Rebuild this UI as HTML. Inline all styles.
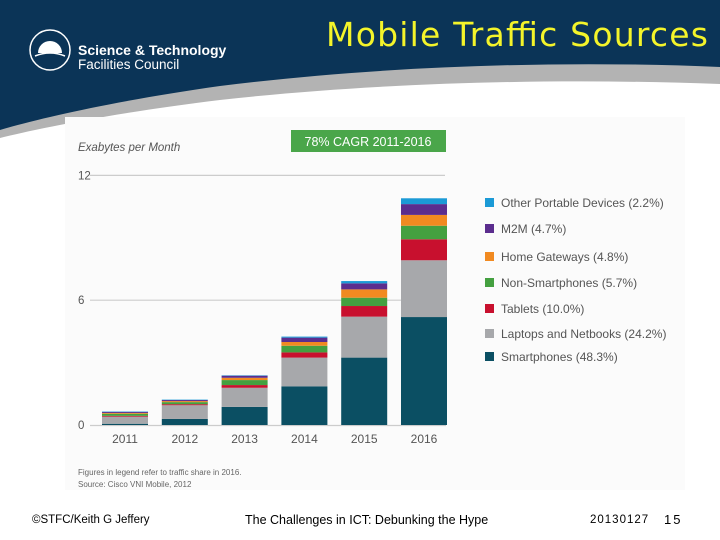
<!DOCTYPE html>
<html><head><meta charset="utf-8"><style>
body{margin:0;width:720px;height:540px;overflow:hidden;background:#fff;font-family:"Liberation Sans",sans-serif}
#root{position:relative;width:720px;height:540px}
</style></head><body>
<div id="root">
<svg width="720" height="540" style="position:absolute;left:0;top:0">
<g>
<path d="M0,0 H720 V84 C560,78 380,82 220,100 C120,112 40,128 0,138 Z" fill="#b3b3b3"/>
<path d="M0,0 H720 V67 C560,60 380,66 220,86 C120,100 40,118 0,130 Z" fill="#0b3457"/>
</g>
<g>
<circle cx="50" cy="50" r="20" fill="none" stroke="#fff" stroke-width="1.5"/>
<path d="M35,56 Q50,50 65,56" stroke="#fff" fill="none" stroke-width="1.5"/>
<path d="M38,53 A12,12 0 0 1 62,53 Z" fill="#fff"/>
<text x="78" y="55" fill="#fff" font-size="14" font-weight="bold">Science &amp; Technology</text>
<text x="78" y="69" fill="#fff" font-size="13.5">Facilities Council</text>
</g>
<text x="708" y="46" text-anchor="end" fill="#f4f42a" font-size="33" font-family="DejaVu Sans, sans-serif" textLength="382">Mobile Traffic Sources</text>
<rect x="65" y="117" width="620" height="373" fill="#fbfbfb"/>
<g id="chart"></g>
<g font-size="12.5" fill="#000">
<text x="32" y="523" font-size="11.5">©STFC/Keith G Jeffery</text>
<text x="245" y="524">The Challenges in ICT: Debunking the Hype</text>
<text x="590" y="523" font-size="11.5" letter-spacing="1">20130127</text>
<text x="664" y="524" font-size="13" letter-spacing="2">15</text>
</g>
</svg>
</div>
<script>
const years=["2011","2012","2013","2014","2015","2016"];
const smartphones=[0.06,0.29,0.87,1.86,3.24,5.19];
const laptops=[0.34,0.66,0.92,1.38,1.97,2.73];
const tablets=[0.04,0.05,0.13,0.25,0.51,1.01];
const nonSmart=[0.1,0.1,0.24,0.32,0.4,0.65];
const homeGw=[0.04,0.05,0.11,0.18,0.4,0.52];
const m2m=[0.05,0.05,0.1,0.21,0.29,0.52];
const other=[0.02,0.02,0.02,0.05,0.11,0.28];
const series=[smartphones,laptops,tablets,nonSmart,homeGw,m2m,other];
const seriesNames=["Smartphones (48.3%)","Laptops and Netbooks (24.2%)","Tablets (10.0%)","Non-Smartphones (5.7%)","Home Gateways (4.8%)","M2M (4.7%)","Other Portable Devices (2.2%)"];
const seriesKeys=["smartphones","laptops","tablets","non-smartphones","home-gateways","m2m","other-devices"];
const colors=["#0b4f63","#a7a8ab","#c8102e","#44a040","#f18a21","#5b2d8e","#1b9ad6"];
const yTicks=[0,6,12];
const NS="http://www.w3.org/2000/svg";
const g=document.getElementById('chart');
const y=v=>425-v*20.8;
const x=i=>102+i*59.8;
const bw=46;
function mk(t,a,p){const e=document.createElementNS(NS,t);for(const k in a)e.setAttribute(k,a[k]);(p||g).appendChild(e);return e;}
const t0=mk('text',{x:78,y:151,'font-size':11.5,'font-style':'italic',fill:'#555'});t0.textContent='Exabytes per Month';


const badge=mk('rect',{x:291,y:130,width:155,height:22,fill:'#4aa64a'});


const bt=mk('text',{x:368,y:146,'text-anchor':'middle','font-size':12.5,fill:'#fff'});bt.textContent='78% CAGR 2011-2016';
yTicks.forEach(v=>{
 if(v>0){const l=mk('line',{x1:90,x2:445,y1:y(v),y2:y(v),stroke:'#ccc','stroke-width':1.2});
 
 }
 const t=mk('text',{x:78,y:y(v)+4,'font-size':11.5,fill:'#555'});t.textContent=v;
 
 
});
const base=mk('line',{x1:90,x2:446,y1:425.5,y2:425.5,stroke:'#ccc','stroke-width':1.2});


years.forEach((yr,i)=>{
 let acc=0;
 series.forEach((s,j)=>{
  const r=mk('rect',{x:x(i),y:y(acc+s[i]),width:bw,height:s[i]*20.8,fill:colors[j]});
  
  
  acc+=s[i];
 });
 const t=mk('text',{x:x(i)+bw/2,y:443,'text-anchor':'middle','font-size':12,fill:'#555'});t.textContent=yr;
 
 
});
for(let j=6;j>=0;j--){
 const k=6-j;const ly=[203,229,257,283,309,334,357][k];
 const lg=mk('g',{});
 
 
 mk('rect',{x:485,y:ly-5,width:9,height:9,fill:colors[j]},lg);
 const t=mk('text',{x:501,y:ly+4,'font-size':12,fill:'#555'},lg);t.textContent=seriesNames[j];
}
const n1=mk('text',{x:78,y:475,'font-size':8,fill:'#666'});n1.textContent='Figures in legend refer to traffic share in 2016.';


const n2=mk('text',{x:78,y:487,'font-size':8,fill:'#666'});n2.textContent='Source: Cisco VNI Mobile, 2012';


</script>
</body></html>
